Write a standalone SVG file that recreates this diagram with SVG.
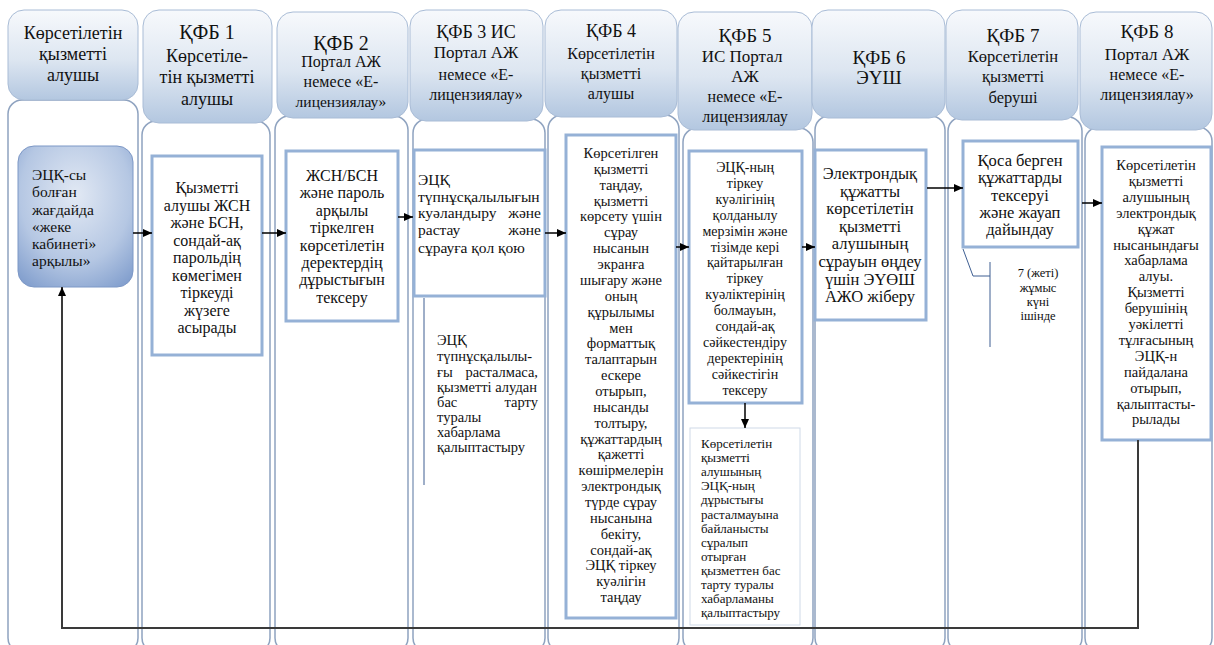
<svg xmlns="http://www.w3.org/2000/svg" width="1214" height="645" viewBox="0 0 1214 645">
<defs>
<linearGradient id="hg" x1="0" y1="0" x2="0" y2="1">
<stop offset="0" stop-color="#f7f9fc"/><stop offset="0.55" stop-color="#dde6f1"/><stop offset="1" stop-color="#b3c7e0"/>
</linearGradient>
<radialGradient id="bg0" cx="0.5" cy="0.35" r="0.8">
<stop offset="0" stop-color="#e2e9f4"/><stop offset="0.6" stop-color="#b5c7e3"/><stop offset="1" stop-color="#7c9acb"/>
</radialGradient>
<marker id="ah" markerUnits="userSpaceOnUse" markerWidth="10" markerHeight="9" refX="9" refY="4" orient="auto">
<path d="M0,0 L9,4 L0,8 z" fill="#000"/>
</marker>
<style>
.lane{fill:#fff;stroke:#8fa3c0;stroke-width:1.5}
.hdr{fill:url(#hg);stroke:#a9bcd6;stroke-width:1}
.box{fill:#fff;stroke:#95b1d6;stroke-width:3}
.thin{fill:#fff;stroke:#cfdae8;stroke-width:1}
.t{font-family:'Liberation Serif','DejaVu Serif',serif;fill:#111}
.c{text-anchor:middle}
.e{text-anchor:end}
.conn{stroke:#000;stroke-width:1.5;fill:none;marker-end:url(#ah)}
.ret{stroke:#3a3a3a;stroke-width:2;fill:none;marker-end:url(#ah)}
.br{stroke:#3f5f92;stroke-width:1;fill:none}
</style>
</defs>

<g id="lanes">
<rect class="lane" x="8" y="100" width="130" height="552" rx="14"/>
<rect class="lane" x="142" y="121" width="128" height="531" rx="14"/>
<rect class="lane" x="275" y="116" width="133" height="536" rx="14"/>
<rect class="lane" x="413" y="119" width="132" height="533" rx="14"/>
<rect class="lane" x="548" y="115" width="131" height="537" rx="14"/>
<rect class="lane" x="683" y="128" width="130" height="524" rx="14"/>
<rect class="lane" x="815" y="116" width="130" height="536" rx="14"/>
<rect class="lane" x="948" y="117" width="134" height="535" rx="14"/>
<rect class="lane" x="1085" y="127" width="127" height="525" rx="14"/>
</g>

<g id="h0"><rect class="hdr" x="8" y="10" width="130" height="90" rx="16"/>
<text class="t c" font-size="18" x="73" y="39">Көрсетілетін</text>
<text class="t c" font-size="18" x="73" y="60">қызметті</text>
<text class="t c" font-size="18" x="73" y="81">алушы</text></g>

<g id="h1"><rect class="hdr" x="143" y="10" width="129" height="113" rx="16"/>
<text class="t c" font-size="20" x="207" y="39">ҚФБ 1</text>
<text class="t c" font-size="18" x="207" y="62">Көрсетіле-</text>
<text class="t c" font-size="18" x="207" y="83">тін қызметті</text>
<text class="t c" font-size="18" x="207" y="105">алушы</text></g>

<g id="h2"><rect class="hdr" x="277" y="12" width="131" height="106" rx="16"/>
<text class="t c" font-size="20" x="341" y="50">ҚФБ 2</text>
<text class="t c" font-size="16" x="341" y="67">Портал АЖ</text>
<text class="t c" font-size="16" x="341" y="87">немесе «Е-</text>
<text class="t c" font-size="15.5" x="341" y="107">лицензиялау»</text></g>

<g id="h3"><rect class="hdr" x="410" y="10" width="133" height="111" rx="16"/>
<text class="t c" font-size="18" x="476" y="38">ҚФБ 3 ИС</text>
<text class="t c" font-size="17" x="476" y="58">Портал АЖ</text>
<text class="t c" font-size="16" x="476" y="80">немесе «Е-</text>
<text class="t c" font-size="16" x="476" y="100">лицензиялау»</text></g>

<g id="h4"><rect class="hdr" x="545" y="10" width="132" height="107" rx="16"/>
<text class="t c" font-size="18" x="611" y="37">ҚФБ 4</text>
<text class="t c" font-size="16" x="611" y="59">Көрсетілетін</text>
<text class="t c" font-size="16" x="611" y="79">қызметті</text>
<text class="t c" font-size="16" x="611" y="99">алушы</text></g>

<g id="h5"><rect class="hdr" x="678" y="12" width="134" height="118" rx="16"/>
<text class="t c" font-size="19" x="745" y="42">ҚФБ 5</text>
<text class="t c" font-size="17" x="742" y="62">ИС Портал</text>
<text class="t c" font-size="17" x="745" y="82">АЖ</text>
<text class="t c" font-size="16" x="745" y="102">немесе «Е-</text>
<text class="t c" font-size="16" x="745" y="122">лицензиялау</text></g>

<g id="h6"><rect class="hdr" x="812" y="10" width="133" height="108" rx="16"/>
<text class="t c" font-size="19" x="879" y="64">ҚФБ 6</text>
<text class="t c" font-size="19" x="879" y="84">ЭҮШ</text></g>

<g id="h7"><rect class="hdr" x="946" y="10" width="132" height="110" rx="16"/>
<text class="t c" font-size="19" x="1013" y="42">ҚФБ 7</text>
<text class="t c" font-size="16.5" x="1013" y="62">Көрсетілетін</text>
<text class="t c" font-size="16.5" x="1013" y="82">қызметті</text>
<text class="t c" font-size="16.5" x="1013" y="103">беруші</text></g>

<g id="h8"><rect class="hdr" x="1080" y="12" width="132" height="118" rx="16"/>
<text class="t c" font-size="19" x="1147" y="38">ҚФБ 8</text>
<text class="t c" font-size="17" x="1147" y="60">Портал АЖ</text>
<text class="t c" font-size="16" x="1147" y="80">немесе «Е-</text>
<text class="t c" font-size="16" x="1147" y="100">лицензиялау»</text></g>

<g id="n0"><rect x="18" y="146" width="115" height="141" rx="16" fill="url(#bg0)" stroke="#7d98c6" stroke-width="1"/>
<text class="t" font-size="15.5" x="32" y="180">ЭЦҚ-сы</text>
<text class="t" font-size="15.5" x="32" y="197">болған</text>
<text class="t" font-size="15.5" x="32" y="215">жағдайда</text>
<text class="t" font-size="15.5" x="32" y="232">«жеке</text>
<text class="t" font-size="15.5" x="32" y="249">кабинеті»</text>
<text class="t" font-size="15.5" x="32" y="266">арқылы»</text></g>

<g id="n1"><rect class="box" x="152" y="156" width="110" height="199"/>
<text class="t c" font-size="16" x="207" y="193">Қызметті</text>
<text class="t c" font-size="16" x="207" y="210.5">алушы ЖСН</text>
<text class="t c" font-size="16" x="207" y="228">және БСН,</text>
<text class="t c" font-size="16" x="207" y="245.5">сондай-ақ</text>
<text class="t c" font-size="16" x="207" y="263">парольдің</text>
<text class="t c" font-size="16" x="207" y="280.5">көмегімен</text>
<text class="t c" font-size="16" x="207" y="298">тіркеуді</text>
<text class="t c" font-size="16" x="207" y="315.5">жүзеге</text>
<text class="t c" font-size="16" x="207" y="333">асырады</text></g>

<g id="n2"><rect class="box" x="286" y="151" width="112" height="170"/>
<text class="t c" font-size="16" x="342" y="181">ЖСН/БСН</text>
<text class="t c" font-size="16" x="342" y="198.4">және пароль</text>
<text class="t c" font-size="16" x="342" y="215.8">арқылы</text>
<text class="t c" font-size="16" x="342" y="233.2">тіркелген</text>
<text class="t c" font-size="16" x="342" y="250.6">көрсетілетін</text>
<text class="t c" font-size="16" x="342" y="268">деректердің</text>
<text class="t c" font-size="16" x="342" y="285.4">дұрыстығын</text>
<text class="t c" font-size="16" x="342" y="302.8">тексеру</text></g>

<g id="n3"><rect class="box" x="414" y="150" width="131" height="146" stroke-width="2"/>
<text class="t" font-size="15.5" x="418" y="185">ЭЦҚ</text>
<text class="t" font-size="15.5" x="418" y="202">түпнұсқалылығын</text>
<text class="t" font-size="15.5" x="418" y="218">куәландыру</text>
<text class="t e" font-size="15.5" x="541" y="218">және</text>
<text class="t" font-size="15.5" x="418" y="235">растау</text>
<text class="t e" font-size="15.5" x="541" y="235">және</text>
<text class="t" font-size="15.5" x="418" y="253">сұрауға қол қою</text></g>

<g id="n3b"><line class="br" x1="424" y1="298" x2="424" y2="485"/>
<text class="t" font-size="14.5" x="437" y="345">ЭЦҚ</text>
<text class="t" font-size="14.5" x="437" y="361">түпнұсқалылы-</text>
<text class="t" font-size="14.5" x="437" y="377">ғы</text>
<text class="t e" font-size="14.5" x="538" y="377">расталмаса,</text>
<text class="t" font-size="14.5" x="437" y="392">қызметті алудан</text>
<text class="t" font-size="14.5" x="437" y="407">бас</text>
<text class="t e" font-size="14.5" x="538" y="407">тарту</text>
<text class="t" font-size="14.5" x="437" y="422">туралы</text>
<text class="t" font-size="14.5" x="437" y="437">хабарлама</text>
<text class="t" font-size="14.5" x="437" y="452">қалыптастыру</text></g>

<g id="n4"><rect class="box" x="566" y="135" width="110" height="483"/>
<text class="t c" font-size="14.5" x="621" y="158">Көрсетілген</text>
<text class="t c" font-size="14.5" x="621" y="173.9">қызметті</text>
<text class="t c" font-size="14.5" x="621" y="189.7">таңдау,</text>
<text class="t c" font-size="14.5" x="621" y="205.6">қызметті</text>
<text class="t c" font-size="14.5" x="621" y="221.4">көрсету үшін</text>
<text class="t c" font-size="14.5" x="621" y="237.3">сұрау</text>
<text class="t c" font-size="14.5" x="621" y="253.2">нысанын</text>
<text class="t c" font-size="14.5" x="621" y="269">экранға</text>
<text class="t c" font-size="14.5" x="621" y="284.9">шығару және</text>
<text class="t c" font-size="14.5" x="621" y="300.7">оның</text>
<text class="t c" font-size="14.5" x="621" y="316.6">құрылымы</text>
<text class="t c" font-size="14.5" x="621" y="332.5">мен</text>
<text class="t c" font-size="14.5" x="621" y="348.3">форматтық</text>
<text class="t c" font-size="14.5" x="621" y="364.2">талаптарын</text>
<text class="t c" font-size="14.5" x="621" y="380">ескере</text>
<text class="t c" font-size="14.5" x="621" y="395.9">отырып,</text>
<text class="t c" font-size="14.5" x="621" y="411.8">нысанды</text>
<text class="t c" font-size="14.5" x="621" y="427.6">толтыру,</text>
<text class="t c" font-size="14.5" x="621" y="443.5">құжаттардың</text>
<text class="t c" font-size="14.5" x="621" y="459.3">қажетті</text>
<text class="t c" font-size="14.5" x="621" y="475.2">көшірмелерін</text>
<text class="t c" font-size="14.5" x="621" y="491.1">электрондық</text>
<text class="t c" font-size="14.5" x="621" y="506.9">түрде сұрау</text>
<text class="t c" font-size="14.5" x="621" y="522.8">нысанына</text>
<text class="t c" font-size="14.5" x="621" y="538.6">бекіту,</text>
<text class="t c" font-size="14.5" x="621" y="554.5">сондай-ақ</text>
<text class="t c" font-size="14.5" x="621" y="570.4">ЭЦҚ тіркеу</text>
<text class="t c" font-size="14.5" x="621" y="586.2">куәлігін</text>
<text class="t c" font-size="14.5" x="621" y="602.1">таңдау</text></g>

<g id="n5"><rect class="box" x="689" y="151" width="113" height="252"/>
<text class="t c" font-size="14" x="745" y="172">ЭЦҚ-ның</text>
<text class="t c" font-size="14" x="745" y="187.9">тіркеу</text>
<text class="t c" font-size="14" x="745" y="203.8">куәлігінің</text>
<text class="t c" font-size="14" x="745" y="219.7">қолданылу</text>
<text class="t c" font-size="14" x="745" y="235.6">мерзімін және</text>
<text class="t c" font-size="14" x="745" y="251.5">тізімде кері</text>
<text class="t c" font-size="14" x="745" y="267.4">қайтарылған</text>
<text class="t c" font-size="14" x="745" y="283.3">тіркеу</text>
<text class="t c" font-size="14" x="745" y="299.2">куәліктерінің</text>
<text class="t c" font-size="14" x="745" y="315.1">болмауын,</text>
<text class="t c" font-size="14" x="745" y="331">сондай-ақ</text>
<text class="t c" font-size="14" x="745" y="346.9">сәйкестендіру</text>
<text class="t c" font-size="14" x="745" y="362.8">деректерінің</text>
<text class="t c" font-size="14" x="745" y="378.7">сәйкестігін</text>
<text class="t c" font-size="14" x="745" y="394.6">тексеру</text></g>

<g id="n5b"><rect class="thin" x="690" y="428" width="110" height="197"/>
<text class="t" font-size="13" x="701" y="448">Көрсетілетін</text>
<text class="t" font-size="13" x="701" y="462.1">қызметті</text>
<text class="t" font-size="13" x="701" y="476.2">алушының</text>
<text class="t" font-size="13" x="701" y="490.3">ЭЦҚ-ның</text>
<text class="t" font-size="13" x="701" y="504.4">дұрыстығы</text>
<text class="t" font-size="13" x="701" y="518.5">расталмауына</text>
<text class="t" font-size="13" x="701" y="532.6">байланысты</text>
<text class="t" font-size="13" x="701" y="546.7">сұралып</text>
<text class="t" font-size="13" x="701" y="560.8">отырған</text>
<text class="t" font-size="13" x="701" y="574.9">қызметтен бас</text>
<text class="t" font-size="13" x="701" y="589">тарту туралы</text>
<text class="t" font-size="13" x="701" y="603.1">хабарламаны</text>
<text class="t" font-size="13" x="701" y="617.2">қалыптастыру</text></g>

<g id="n6"><rect class="box" x="815" y="150" width="111" height="170"/>
<text class="t c" font-size="16.5" x="870" y="179">Электрондық</text>
<text class="t c" font-size="16.5" x="870" y="196.6">құжатты</text>
<text class="t c" font-size="16.5" x="870" y="214.2">көрсетілетін</text>
<text class="t c" font-size="16.5" x="870" y="231.8">қызметті</text>
<text class="t c" font-size="16.5" x="870" y="249.4">алушының</text>
<text class="t c" font-size="16.5" x="870" y="267">сұрауын өңдеу</text>
<text class="t c" font-size="16.5" x="870" y="284.6">үшін ЭҮӨШ</text>
<text class="t c" font-size="16.5" x="870" y="302.2">АЖО жіберу</text></g>

<g id="n7"><rect class="box" x="963" y="141" width="115" height="106"/>
<text class="t c" font-size="16.5" x="1020" y="166">Қоса берген</text>
<text class="t c" font-size="16.5" x="1020" y="183.3">құжаттарды</text>
<text class="t c" font-size="16.5" x="1020" y="200.6">тексеруі</text>
<text class="t c" font-size="16.5" x="1020" y="217.9">және жауап</text>
<text class="t c" font-size="16.5" x="1020" y="235.2">дайындау</text></g>

<g id="n7b"><polyline class="br" points="963,249 973,276 990,276"/>
<line class="br" x1="990" y1="262" x2="990" y2="347"/>
<text class="t c" font-size="12.5" x="1038" y="277">7 (жеті)</text>
<text class="t c" font-size="12.5" x="1038" y="292">жұмыс</text>
<text class="t c" font-size="12.5" x="1038" y="306">күні</text>
<text class="t c" font-size="12.5" x="1038" y="320">ішінде</text></g>

<g id="n8"><rect class="box" x="1102" y="147" width="109" height="293"/>
<text class="t c" font-size="14.5" x="1156" y="170">Көрсетілетін</text>
<text class="t c" font-size="14.5" x="1156" y="185.9">қызметті</text>
<text class="t c" font-size="14.5" x="1156" y="201.8">алушының</text>
<text class="t c" font-size="14.5" x="1156" y="217.7">электрондық</text>
<text class="t c" font-size="14.5" x="1156" y="233.6">құжат</text>
<text class="t c" font-size="14.5" x="1156" y="249.5">нысанындағы</text>
<text class="t c" font-size="14.5" x="1156" y="265.4">хабарлама</text>
<text class="t c" font-size="14.5" x="1156" y="281.3">алуы.</text>
<text class="t c" font-size="14.5" x="1156" y="297.2">Қызметті</text>
<text class="t c" font-size="14.5" x="1156" y="313.1">берушінің</text>
<text class="t c" font-size="14.5" x="1156" y="329">уәкілетті</text>
<text class="t c" font-size="14.5" x="1156" y="344.9">тұлғасының</text>
<text class="t c" font-size="14.5" x="1156" y="360.8">ЭЦҚ-н</text>
<text class="t c" font-size="14.5" x="1156" y="376.7">пайдалана</text>
<text class="t c" font-size="14.5" x="1156" y="392.6">отырып,</text>
<text class="t c" font-size="14.5" x="1156" y="408.5">қалыптасты-</text>
<text class="t c" font-size="14.5" x="1156" y="424.4">рылады</text></g>

<g id="connectors">
<path class="conn" d="M133 233 H152"/>
<path class="conn" d="M262 233 H286"/>
<path class="conn" d="M398 217 H413"/>
<path class="conn" d="M545 233 H566"/>
<path class="conn" d="M676 247 H689"/>
<path class="conn" d="M802 247 H815"/>
<path class="conn" d="M927 188 H963"/>
<path class="conn" d="M1082 203 H1102"/>
<path class="conn" d="M745 403 V428"/>
<path class="ret" d="M1138 440 V628 H62 V287"/>
</g>
</svg>
